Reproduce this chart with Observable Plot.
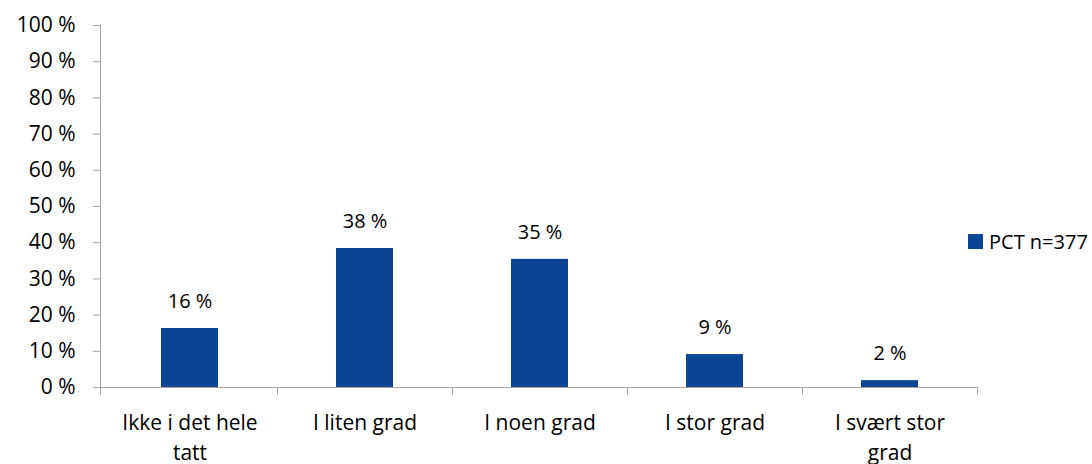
<!DOCTYPE html>
<html>
<head>
<meta charset="utf-8">
<script src="https://cdn.jsdelivr.net/npm/d3@7"></script>
<script src="https://cdn.jsdelivr.net/npm/@observablehq/plot@0.6"></script>
<style>
  body { margin: 0; background: #fff; font-family: "Open Sans", sans-serif; }
  #wrap { position: relative; width: 1092px; height: 464px; overflow: hidden; }
  #legend { position: absolute; left: 968px; top: 228px; font-size: 20px; color: #000; display: flex; align-items: center; }
  #legend .sw { width: 15px; height: 15px; margin-right: 6px; }
</style>
</head>
<body>
<div id="wrap"></div>
<script>
const categories = ["Ikke i det hele tatt", "I liten grad", "I noen grad", "I stor grad", "I svært stor grad"];
const tickLabels = ["Ikke i det hele\ntatt", "I liten grad", "I noen grad", "I stor grad", "I svært stor\ngrad"];
const values = [16.3, 38.4, 35.4, 9.1, 1.9];
const valueLabels = ["16 %", "38 %", "35 %", "9 %", "2 %"];
const yTicks = [0, 10, 20, 30, 40, 50, 60, 70, 80, 90, 100];
const seriesName = "PCT n=377";
const barColor = "#0b4594";
const axisColor = "#a6a6a6";

const data = categories.map((c, i) => ({cat: c, value: values[i], label: valueLabels[i]}));

const chart = Plot.plot({
  width: 1092,
  height: 464,
  marginLeft: 100,
  marginRight: 114,
  marginTop: 25,
  marginBottom: 77,
  style: {fontFamily: "Open Sans, sans-serif", fontSize: "20px", color: "#000", background: "#fff"},
  x: {domain: categories, paddingInner: 0.675, paddingOuter: 0.3375, align: 0.5},
  y: {domain: [0, 100]},
  marks: [
    Plot.barY(data, {x: "cat", y: "value", fill: barColor}),
    Plot.text(data, {x: "cat", y: "value", text: "label", dy: -27, fill: "#000", fontSize: 20}),
    Plot.axisY({ticks: yTicks, tickFormat: d => d + " %", tickSize: 7, tickPadding: 18, stroke: axisColor, fill: "#000", fontSize: 21, label: null}),
    Plot.axisX({tickSize: 0, tickPadding: 22, tickFormat: d => tickLabels[categories.indexOf(d)], lineAnchor: "top", lineHeight: 1.4, fill: "#000", fontSize: 21, label: null}),
    Plot.ruleY([0], {stroke: axisColor, strokeWidth: 1})
  ]
});

// vertical axis line and band-boundary ticks, positioned from the chart's scales
const svg = d3.select(chart);
const xs = chart.scale("x");
const ys = chart.scale("y");
const step = xs.step;
const bw = xs.bandwidth;
const x0 = d3.min(xs.range);
const yBase = ys.apply(0);
const yTop = ys.apply(100);
const g = svg.append("g").attr("stroke", axisColor).attr("stroke-width", 1);
g.append("line").attr("x1", x0 + 0.5).attr("x2", x0 + 0.5).attr("y1", yTop).attr("y2", yBase);
const bounds = [x0, ...categories.map(c => xs.apply(c) + bw + (step - bw) / 2)];
bounds.forEach(b => {
  g.append("line").attr("x1", Math.round(b) + 0.5).attr("x2", Math.round(b) + 0.5).attr("y1", yBase).attr("y2", yBase + 8);
});

document.getElementById("wrap").appendChild(chart);
const legend = document.createElement("div");
legend.id = "legend";
legend.innerHTML = `<span class="sw" style="background:${barColor}"></span><span>${seriesName}</span>`;
document.getElementById("wrap").appendChild(legend);
</script>
</body>
</html>
